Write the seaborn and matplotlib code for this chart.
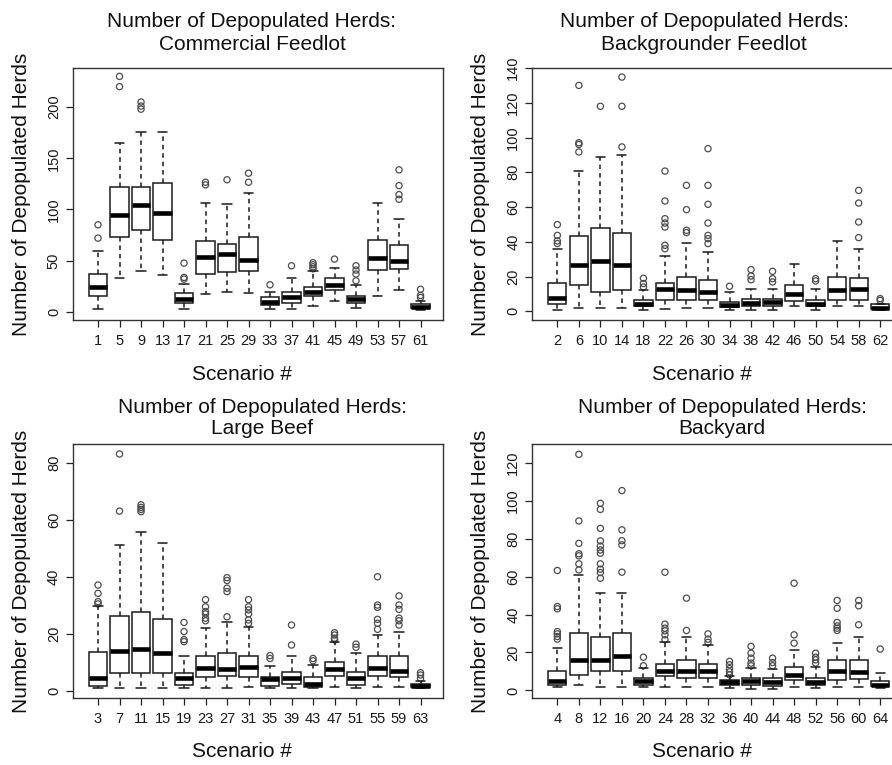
import numpy as np
import pandas as pd
import matplotlib
matplotlib.use("Agg")
import matplotlib.pyplot as plt
import seaborn as sns

# =====================================
# Data (five-number summaries + outliers per scenario)
# =====================================
cf_scen = [1, 5, 9, 13, 17, 21, 25, 29, 33, 37, 41, 45, 49, 53, 57, 61]
cf_lo = [2.6, 33, 39.5, 36, 2.6, 17.3, 19.6, 18.3, 2.3, 2.3, 5.9, 10.8, 3.6, 15.7, 21.2, 2]
cf_q1 = [15, 72.8, 80, 70, 9, 36.9, 38.5, 39.5, 6.9, 9, 15, 21.2, 9, 40.8, 41.8, 3.6]
cf_med = [23.8, 94.6, 104, 96.6, 12.4, 53.2, 56.4, 50.6, 10, 14, 19.6, 26.4, 13, 53, 50, 4.9]
cf_q3 = [36.9, 121.7, 121.7, 125.6, 18, 68.8, 66, 72.8, 14, 19, 24.5, 33, 15.7, 70, 65, 7.5]
cf_hi = [59.7, 165, 176, 176, 27, 106, 105.4, 116, 19, 33, 39.5, 42.7, 26.4, 106, 90.7, 10.8]
cf_out = [[72, 85], [220, 230], [198, 201, 205], [], [32, 33.6, 47.6], [124, 126.6],
          [129], [126.6, 135.4], [26.4], [45], [42, 44, 46, 48], [51.5],
          [30.3, 36.9, 40.8, 45], [], [110, 114.5, 123.3, 138.7], [14, 16, 22]]

bg_scen = [2, 6, 10, 14, 18, 22, 26, 30, 34, 38, 42, 46, 50, 54, 58, 62]
bg_lo = [1, 2, 2, 2, 1, 1.5, 2, 2, 1, 1, 1, 2.9, 1, 2.9, 2.9, 0.6]
bg_q1 = [4, 15, 11, 12, 2.9, 6.7, 6.7, 6.7, 2.5, 2.9, 2.9, 5.8, 2.9, 6.7, 6.7, 1.5]
bg_med = [7.7, 26.5, 28.8, 26.5, 4.4, 12.7, 12.5, 11, 3.8, 4.8, 5.4, 10.2, 4.4, 12, 13, 2.1]
bg_q3 = [16.5, 43.3, 48, 45, 6.3, 16.5, 20, 18.2, 5.4, 7.3, 7.3, 15, 6.7, 20, 19.4, 4]
bg_hi = [36, 80.6, 88.8, 89.8, 12.5, 32, 39.3, 34, 11, 13, 13, 27, 12.7, 40.5, 36, 4.4]
bg_out = [[39, 40.5, 43.7, 49.9], [91.7, 96, 97, 130], [118], [94.6, 118, 134.8],
          [14, 16, 19], [36, 38, 48.5, 50.8, 53.3, 63.5, 80.7], [45.3, 46.6, 58.5, 72.5],
          [39, 41.8, 43.7, 50.8, 61.6, 72.5, 93.6], [14.4], [18.2, 20.3, 24],
          [16.9, 18.8, 23], [], [17.5, 18.8], [], [42.4, 51.4, 62.3, 69.6], [6.3, 7.3]]

lb_scen = [3, 7, 11, 15, 19, 23, 27, 31, 35, 39, 43, 47, 51, 55, 59, 63]
lb_lo = [0.9, 1.2, 1.2, 1.2, 0.9, 1.2, 1.2, 1.5, 1.2, 1.2, 0.9, 1.5, 1.2, 1.5, 1.5, 0.9]
lb_q1 = [1.8, 6.4, 6.2, 6.2, 2.1, 5, 5.3, 5, 1.8, 2.3, 1.5, 5.3, 2.1, 5.3, 5, 1.3]
lb_med = [4.7, 14.1, 14.6, 13.2, 4.4, 7.9, 7.6, 8.3, 4.1, 4.4, 2.5, 7.6, 4.7, 7.9, 7.1, 1.8]
lb_q3 = [13.5, 26.4, 27.6, 25.2, 6.2, 12.4, 13.2, 12.4, 5, 6.8, 4.8, 10.3, 6.8, 12.3, 12.3, 2.5]
lb_hi = [29.8, 51, 55.8, 52, 12.4, 22, 24, 22.3, 8.8, 12.3, 9.1, 17, 13.2, 19.6, 20.8, 3.6]
lb_out = [[30.5, 31.3, 34.2, 37.1], [63, 83], [62.8, 63.6, 64.3, 65.2], [],
          [17.3, 18, 20.8, 24], [24.6, 25.5, 27, 27.8, 29.5, 32], [26, 34.8, 36, 38.7, 39.7],
          [23.7, 24.9, 27, 28.4, 29.5, 32], [11.4, 12.4], [16.1, 23.1], [10.6, 11.4],
          [17.9, 18.5, 19.6, 20.4], [15.3, 16.4], [21.6, 23.7, 25.1, 29.3, 30.1, 40],
          [23.1, 24.6, 25.5, 28.6, 30.1, 33.3], [4.4, 5.6, 6.4]]

by_scen = [4, 8, 12, 16, 20, 24, 28, 32, 36, 40, 44, 48, 52, 56, 60, 64]
by_lo = [1.6, 3, 1.6, 1.6, 1.6, 1.6, 1.6, 1.6, 1.2, 0.7, 0.7, 1.6, 1.2, 1.6, 1.6, 1.2]
by_q1 = [3, 7.9, 10, 10.4, 3, 7.4, 6.5, 6.5, 3, 3, 2.5, 5.6, 3, 5.6, 6, 2.1]
by_med = [4.7, 15.8, 15.8, 17.9, 4.7, 10, 10, 10, 4.2, 4.7, 4.2, 8.2, 4.2, 10, 9.5, 3]
by_q3 = [10.4, 30.5, 27.9, 30.5, 6.8, 14, 16.1, 14, 5.3, 6.5, 6.5, 12.1, 6.5, 15.8, 15.8, 4.7]
by_hi = [22.6, 60.9, 51.2, 51.2, 11.8, 25.3, 28.4, 24, 7.4, 11.8, 11.2, 21.4, 12.3, 24.9, 28.4, 9.1]
by_out = [[27, 28.4, 29.8, 31, 43, 44.2, 63.2], [63.5, 66.7, 70.9, 72, 77.5, 89.3, 124.4],
          [59.1, 62.1, 63.9, 66.7, 72.3, 74, 76.1, 78.8, 85.4, 95.4, 98.6],
          [62.3, 76.7, 78.9, 84.6, 105.3], [13, 17.5], [26.7, 29.3, 31.4, 32.8, 34.9, 62.3],
          [31.6, 48.6], [25.3, 27, 29.8], [8.2, 9.8, 11.5, 13.5, 15.3],
          [13, 14.4, 17, 19.6, 23.2], [13, 14.7, 17], [24.9, 29.3, 56.5],
          [14.4, 16.1, 17.5, 19.6], [31.6, 32.8, 34, 35.8, 43.3, 47.4], [34.6, 44.6, 47.4], [21.8]]

# =====================================
# Style
# =====================================
sns.set_style("ticks")
plt.rcParams["font.family"] = ["Liberation Sans", "DejaVu Sans"]

W, H = 892, 765
fig = plt.figure(figsize=(W / 100, H / 100), dpi=100)


def px_rect(left, right, top, bottom):
    return [left / W, 1 - bottom / H, (right - left) / W, (bottom - top) / H]


def draw_panel(rect, scen, lo, q1, med, q3, hi, out, ylim, yticks):
    ax = fig.add_axes(rect)
    # five numbers per box -> seaborn computes exactly these quartiles
    box_df = pd.DataFrame({
        "scenario": np.repeat(scen, 5),
        "herds": np.column_stack([lo, q1, med, q3, hi]).ravel(),
    })
    sns.boxplot(data=box_df, x="scenario", y="herds", orient="x", native_scale=True,
                whis=(0, 100), showfliers=False, width=0.85, color="white",
                linecolor="#1a1a1a", linewidth=1.1,
                medianprops=dict(linewidth=3.3, color="black"),
                whiskerprops=dict(linestyle=(0, (3, 2.5))), ax=ax)

    out_df = pd.DataFrame({
        "scenario": [s for s, o in zip(scen, out) for _ in o],
        "herds": [v for o in out for v in o],
    })
    sns.scatterplot(data=out_df, x="scenario", y="herds", marker="o", s=20,
                    facecolors="none", edgecolor="#4d4d4d", linewidth=0.9,
                    legend=False, ax=ax)

    ax.set_xlim(scen[0] - 4.71, scen[0] + 64.24)
    ax.set_ylim(*ylim)
    ax.set_xticks(scen)
    ax.set_xticklabels([str(s) for s in scen])
    ax.set_yticks(yticks)
    ax.set_xlabel("")
    ax.set_ylabel("")
    ax.tick_params(axis="both", direction="out", length=5, width=0.9,
                   color="#222222", labelsize=10.5, labelcolor="#1a1a1a")
    ax.tick_params(axis="x", pad=5)
    ax.tick_params(axis="y", pad=3.5, labelrotation=90)
    for lab in ax.get_yticklabels():
        lab.set_va("center")
    for sp in ax.spines.values():
        sp.set_linewidth(1.0)
        sp.set_color("#333333")
    return ax


draw_panel(px_rect(72.7, 443.3, 67.7, 320), cf_scen, cf_lo, cf_q1, cf_med, cf_q3, cf_hi,
           cf_out, (-8, 238.5), range(0, 201, 50))
draw_panel(px_rect(532, 903, 67.7, 320), bg_scen, bg_lo, bg_q1, bg_med, bg_q3, bg_hi,
           bg_out, (-5, 140.2), range(0, 141, 20))
draw_panel(px_rect(72.7, 443.3, 444, 698), lb_scen, lb_lo, lb_q1, lb_med, lb_q3, lb_hi,
           lb_out, (-2.45, 86.5), range(0, 81, 20))
draw_panel(px_rect(532, 903, 444.3, 698), by_scen, by_lo, by_q1, by_med, by_q3, by_hi,
           by_out, (-4, 129.7), range(0, 121, 20))

# =====================================
# Titles and axis labels
# =====================================
titles = ["Commercial Feedlot", "Backgrounder Feedlot", "Large Beef", "Backyard"]
title_x = [252, 704, 262, 722]
title_y = [(27, 50), (27, 50), (413, 433.5), (413, 433.5)]
xlabel_x = [241.5, 702, 241.5, 702]
xlabel_y = [380, 380, 757, 757]
ylabel_x = [22, 481, 22, 481]
ylabel_y = [194, 194, 571, 571]

for i in range(4):
    fig.text(title_x[i] / W, 1 - title_y[i][0] / H, "Number of Depopulated Herds:",
             ha="center", va="baseline", fontsize=15, color="#111111")
    fig.text(title_x[i] / W, 1 - title_y[i][1] / H, titles[i],
             ha="center", va="baseline", fontsize=15, color="#111111")
    fig.text(xlabel_x[i] / W, 1 - xlabel_y[i] / H, "Scenario #",
             ha="center", va="baseline", fontsize=15, color="#111111")
    fig.text(ylabel_x[i] / W, 1 - ylabel_y[i] / H, "Number of Depopulated Herds",
             ha="center", va="center", rotation=90, fontsize=15, color="#111111")

fig.savefig("out.png", dpi=100)
